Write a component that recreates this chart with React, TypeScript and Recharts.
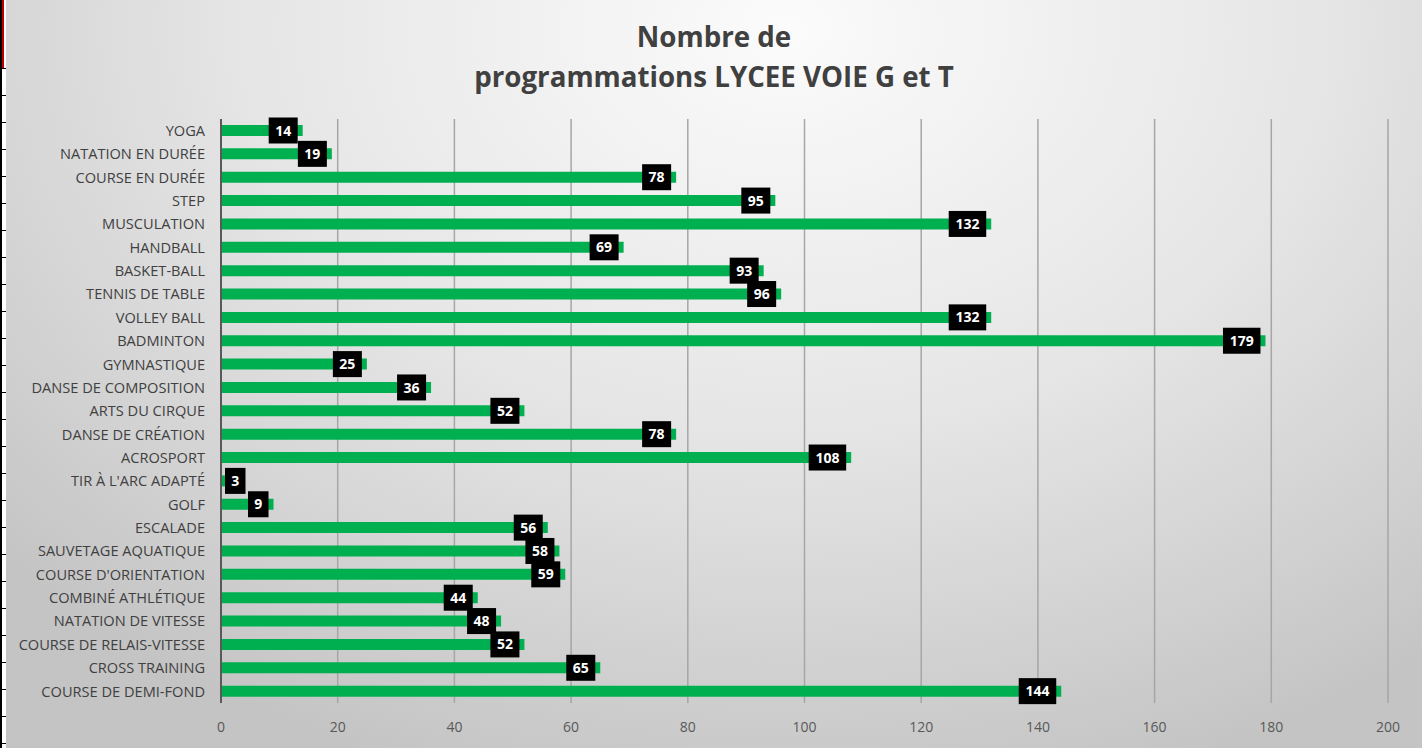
import { BarChart, Bar, XAxis, YAxis, CartesianGrid, LabelList } from 'recharts';

const activites = [
    'YOGA', 'NATATION EN DURÉE', 'COURSE EN DURÉE', 'STEP', 'MUSCULATION', 'HANDBALL',
    'BASKET-BALL', 'TENNIS DE TABLE', 'VOLLEY BALL', 'BADMINTON', 'GYMNASTIQUE',
    'DANSE DE COMPOSITION', 'ARTS DU CIRQUE', 'DANSE DE CRÉATION', 'ACROSPORT',
    "TIR À L'ARC ADAPTÉ", 'GOLF', 'ESCALADE', 'SAUVETAGE AQUATIQUE', "COURSE D'ORIENTATION",
    'COMBINÉ ATHLÉTIQUE', 'NATATION DE VITESSE', 'COURSE DE RELAIS-VITESSE', 'CROSS TRAINING',
    'COURSE DE DEMI-FOND',
];
const programmations = [14, 19, 78, 95, 132, 69, 93, 96, 132, 179, 25, 36, 52, 78, 108, 3, 9, 56, 58, 59, 44, 48, 52, 65, 144];
const xTicks = [0, 20, 40, 60, 80, 100, 120, 140, 160, 180, 200];

const data = activites.map((name, i) => ({ name, value: programmations[i] }));

const fontFamily = '"Open Sans", "Noto Sans", sans-serif';

// etiquette noire en bout de barre
const BoxLabel = (props: any) => {
    const { x, y, width, height, value } = props;
    const txt = String(value);
    const w = 12 + 8.5 * txt.length;
    const h = 26;
    const end = x + width;
    const bx = Math.max(x + 4, end - 5 - w);
    const cy = y + height / 2;
    return (
        <g>
            <rect x={bx} y={cy - h / 2} width={w} height={h} fill="#000" />
            <text
                x={bx + w / 2}
                y={cy}
                dy="0.36em"
                textAnchor="middle"
                fill="#fff"
                fontWeight="bold"
                fontSize={14}
                fontFamily={fontFamily}
            >
                {txt}
            </text>
        </g>
    );
};

// libelle sur une seule ligne (pas de retour a la ligne)
const CategoryTick = (props: any) => {
    const { x, y, payload } = props;
    return (
        <text x={x} y={y} dy="0.36em" textAnchor="end" fill="#404040" fontSize={14.6} fontFamily={fontFamily}>
            {payload.value}
        </text>
    );
};

const stripLines = Array.from({ length: 26 }, (_, i) => 68 + i * 27);

export default function App() {
    return (
        <div style={{ position: 'absolute', left: 0, top: 0, width: 1428, height: 748, background: '#fff', overflow: 'hidden' }}>
            {/* bord de feuille a gauche */}
            <div style={{ position: 'absolute', left: 0, top: 0, width: 2, height: 748, background: '#000' }} />
            <div style={{ position: 'absolute', left: 2, top: 0, width: 2, height: 68, background: '#c00000' }} />
            {stripLines.map((t) => (
                <div key={t} style={{ position: 'absolute', left: 0, top: t, width: 6, height: 1, background: '#000' }} />
            ))}
            <div
                style={{
                    position: 'absolute',
                    left: 6,
                    top: 0,
                    width: 1416,
                    height: 748,
                    background: 'radial-gradient(ellipse 75% 105% at 55% 4%, #fbfbfb 0%, #e6e6e6 50%, #d2d2d2 80%, #c4c4c4 100%)',
                }}
            >
                <div
                    style={{
                        position: 'absolute',
                        left: 0,
                        top: 16,
                        width: 1416,
                        textAlign: 'center',
                        fontFamily,
                        fontWeight: 'bold',
                        fontSize: 27.7,
                        lineHeight: '40px',
                        color: '#404040',
                    }}
                >
                    Nombre de
                    <br />
                    programmations LYCEE VOIE G et T
                </div>
                <BarChart
                    width={1416}
                    height={748}
                    data={data}
                    layout="vertical"
                    margin={{ top: 119, right: 34, bottom: 15, left: 0 }}
                    barCategoryGap={6}
                >
                    <CartesianGrid horizontal={false} stroke="#a6a6a6" strokeWidth={1.5} />
                    <XAxis
                        type="number"
                        domain={[0, 200]}
                        ticks={xTicks}
                        axisLine={false}
                        tickLine={false}
                        tickMargin={13}
                        height={30}
                        tick={{ fill: '#595959', fontSize: 14, fontFamily }}
                    />
                    <YAxis
                        type="category"
                        dataKey="name"
                        width={215}
                        interval={0}
                        tickLine={false}
                        tickMargin={10}
                        axisLine={{ stroke: '#595959', strokeWidth: 2 }}
                        tick={<CategoryTick />}
                    />
                    <Bar dataKey="value" fill="#00b050" barSize={11} isAnimationActive={false}>
                        <LabelList dataKey="value" content={BoxLabel} />
                    </Bar>
                </BarChart>
            </div>
        </div>
    );
}
